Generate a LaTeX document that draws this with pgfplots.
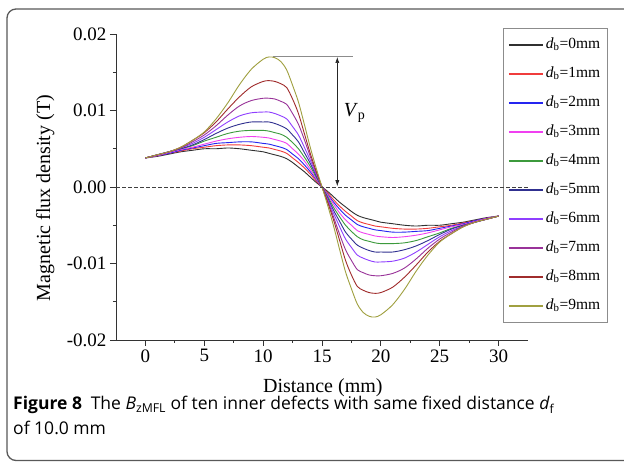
\documentclass[border=0pt]{standalone}
\usepackage{fontspec}
\setmainfont{Liberation Serif}
\newfontfamily\capfont{Open Sans}
\usepackage{pgfplots}
\pgfplotsset{compat=1.18}
\usepackage{pgfplotstable}
\usetikzlibrary{arrows.meta}

\definecolor{colA}{HTML}{303030}
\definecolor{colB}{HTML}{F03C3C}
\definecolor{colC}{HTML}{2525F0}
\definecolor{colD}{HTML}{F040F0}
\definecolor{colE}{HTML}{3C9A3C}
\definecolor{colF}{HTML}{303090}
\definecolor{colG}{HTML}{8F3FFF}
\definecolor{colH}{HTML}{993399}
\definecolor{colI}{HTML}{A02C2C}
\definecolor{colJ}{HTML}{A0A040}

\pgfplotstableread{
x    c0      c1      c2      c3      c4      c5      c6      c7      c8      c9
0    0.0038  0.0038  0.0038  0.0038  0.0038  0.0038  0.0038  0.0038  0.0038  0.0038
1    0.0040  0.0041  0.0041  0.0041  0.0042  0.0042  0.0042  0.0042  0.0042  0.0042
2    0.0043  0.0044  0.0044  0.0045  0.0046  0.0046  0.0046  0.0046  0.0046  0.0046
3    0.0046  0.0047  0.0048  0.0049  0.0050  0.0050  0.0051  0.0051  0.0052  0.0052
4    0.0048  0.0050  0.0051  0.0052  0.0054  0.0055  0.0057  0.0059  0.0061  0.0061
5    0.0050  0.0052  0.0054  0.0056  0.0060  0.0062  0.0065  0.0068  0.0071  0.0072
6    0.0050  0.0054  0.0057  0.0060  0.0065  0.0070  0.0075  0.0080  0.0085  0.0089
7    0.0051  0.0055  0.0058  0.0063  0.0070  0.0077  0.0085  0.0094  0.0102  0.0110
8    0.0050  0.0055  0.0059  0.0065  0.0073  0.0082  0.0093  0.0106  0.0118  0.0134
9    0.0048  0.0054  0.0059  0.0066  0.0074  0.0085  0.0097  0.0113  0.0131  0.0154
10   0.0046  0.0052  0.0057  0.0065  0.0074  0.0085  0.0098  0.0116  0.0138  0.0167
10.5 0.0044  0.0051  0.0056  0.0064  0.0073  0.0085  0.0098  0.0116  0.0139  0.0170
11   0.0042  0.0049  0.0054  0.0062  0.0071  0.0083  0.0096  0.0115  0.0138  0.0169
11.5 0.0040  0.0047  0.0052  0.0060  0.0069  0.0080  0.0093  0.0112  0.0135  0.0164
12   0.0037  0.0044  0.0049  0.0057  0.0065  0.0076  0.0089  0.0108  0.0130  0.0153
12.5 0.0032  0.0038  0.0043  0.0050  0.0058  0.0068  0.0079  0.0096  0.0115  0.0133
13   0.0026  0.0032  0.0037  0.0043  0.0050  0.0059  0.0068  0.0082  0.0096  0.0111
13.5 0.0020  0.0025  0.0029  0.0034  0.0039  0.0045  0.0052  0.0062  0.0070  0.0082
14   0.0013  0.0017  0.0020  0.0023  0.0027  0.0031  0.0035  0.0040  0.0044  0.0052
14.5 0.0006  0.0008  0.0010  0.0011  0.0013  0.0015  0.0017  0.0019  0.0021  0.0025
15   0.0000  0.0000  0.0000  0.0000  0.0000  0.0000  0.0000  0.0000  0.0000  0.0000
15.5 -0.0006 -0.0008 -0.0010 -0.0011 -0.0013 -0.0015 -0.0017 -0.0019 -0.0021 -0.0025
16   -0.0013 -0.0017 -0.0020 -0.0023 -0.0027 -0.0031 -0.0035 -0.0040 -0.0044 -0.0052
16.5 -0.0020 -0.0025 -0.0029 -0.0034 -0.0039 -0.0045 -0.0052 -0.0062 -0.0070 -0.0082
17   -0.0026 -0.0032 -0.0037 -0.0043 -0.0050 -0.0059 -0.0068 -0.0082 -0.0096 -0.0111
17.5 -0.0032 -0.0038 -0.0043 -0.0050 -0.0058 -0.0068 -0.0079 -0.0096 -0.0115 -0.0133
18   -0.0037 -0.0044 -0.0049 -0.0057 -0.0065 -0.0076 -0.0089 -0.0108 -0.0130 -0.0153
18.5 -0.0040 -0.0047 -0.0052 -0.0060 -0.0069 -0.0080 -0.0093 -0.0112 -0.0135 -0.0164
19   -0.0042 -0.0049 -0.0054 -0.0062 -0.0071 -0.0083 -0.0096 -0.0115 -0.0138 -0.0169
19.5 -0.0044 -0.0051 -0.0056 -0.0064 -0.0073 -0.0085 -0.0098 -0.0116 -0.0139 -0.0170
20   -0.0046 -0.0052 -0.0057 -0.0065 -0.0074 -0.0085 -0.0098 -0.0116 -0.0138 -0.0167
21   -0.0048 -0.0054 -0.0059 -0.0066 -0.0074 -0.0085 -0.0097 -0.0113 -0.0131 -0.0154
22   -0.0050 -0.0055 -0.0059 -0.0065 -0.0073 -0.0082 -0.0093 -0.0106 -0.0118 -0.0134
23   -0.0051 -0.0055 -0.0058 -0.0063 -0.0070 -0.0077 -0.0085 -0.0094 -0.0102 -0.0110
24   -0.0050 -0.0054 -0.0057 -0.0060 -0.0065 -0.0070 -0.0075 -0.0080 -0.0085 -0.0089
25   -0.0050 -0.0052 -0.0054 -0.0056 -0.0060 -0.0062 -0.0065 -0.0068 -0.0071 -0.0072
26   -0.0048 -0.0050 -0.0051 -0.0052 -0.0054 -0.0055 -0.0057 -0.0059 -0.0061 -0.0061
27   -0.0046 -0.0047 -0.0048 -0.0049 -0.0050 -0.0050 -0.0051 -0.0051 -0.0052 -0.0052
28   -0.0043 -0.0044 -0.0044 -0.0045 -0.0046 -0.0046 -0.0046 -0.0046 -0.0046 -0.0046
29   -0.0040 -0.0041 -0.0041 -0.0041 -0.0042 -0.0042 -0.0042 -0.0042 -0.0042 -0.0042
30   -0.0038 -0.0038 -0.0038 -0.0038 -0.0038 -0.0038 -0.0038 -0.0038 -0.0038 -0.0038
}\datatable

\begin{document}
\begin{tikzpicture}[x=1pt,y=1pt]
\useasboundingbox (0,0) rectangle (624,463);
\fill[white] (0,0) rectangle (624,463);
\draw[black!65, line width=1.3pt, rounded corners=9pt] (7,2.5) rectangle (660,454);
\begin{axis}[
  at={(116pt,123pt)}, anchor=south west,
  scale only axis, width=412pt, height=306pt,
  xmin=-2.5, xmax=32.5, ymin=-0.02, ymax=0.02,
  scaled y ticks=false, scaled x ticks=false,
  axis x line*=bottom, axis y line*=left,
  axis line style={black!80, line width=0.8pt},
  tick style={black!80, line width=0.8pt},
  tick align=outside,
  major tick length=6pt, minor tick length=3pt,
  xtick={0,5,10,15,20,25,30},
  xticklabels={0,5,10,15,20,25,30},
  minor x tick num=1,
  ytick={-0.02,-0.01,0,0.01,0.02},
  yticklabels={-0.02,-0.01,0.00,0.01,0.02},
  minor y tick num=1,
  ticklabel style={font=\fontsize{19}{19}\selectfont},
  xlabel={Distance (mm)},
  ylabel={Magnetic flux density (T)},
  label style={font=\fontsize{20}{20}\selectfont},
  xlabel style={at={(rel axis cs:0.502,-0.155)}, anchor=center},
  ylabel style={at={(rel axis cs:-0.172,0.464)}, anchor=center},
  legend style={at={(rel axis cs:0.939,1.0196)}, anchor=north west,
    draw=black!45, fill=white, font=\fontsize{15.5}{15.5}\selectfont,
    inner xsep=5pt, inner ysep=7pt, row sep=10pt,
    nodes={inner sep=2pt, text height=11pt, text depth=4pt}},
  legend cell align=left,
  legend image code/.code={\draw[#1, line width=1.8pt] (0pt,0pt) -- (34pt,0pt);},
  every axis plot/.append style={line width=0.9pt, smooth},
  clip=false,
]
\addplot[colA] table[x=x,y=c0]{\datatable};
\addlegendentry{\textit{d}\textsubscript{b}=0mm}
\addplot[colB] table[x=x,y=c1]{\datatable};
\addlegendentry{\textit{d}\textsubscript{b}=1mm}
\addplot[colC] table[x=x,y=c2]{\datatable};
\addlegendentry{\textit{d}\textsubscript{b}=2mm}
\addplot[colD] table[x=x,y=c3]{\datatable};
\addlegendentry{\textit{d}\textsubscript{b}=3mm}
\addplot[colE] table[x=x,y=c4]{\datatable};
\addlegendentry{\textit{d}\textsubscript{b}=4mm}
\addplot[colF] table[x=x,y=c5]{\datatable};
\addlegendentry{\textit{d}\textsubscript{b}=5mm}
\addplot[colG] table[x=x,y=c6]{\datatable};
\addlegendentry{\textit{d}\textsubscript{b}=6mm}
\addplot[colH] table[x=x,y=c7]{\datatable};
\addlegendentry{\textit{d}\textsubscript{b}=7mm}
\addplot[colI] table[x=x,y=c8]{\datatable};
\addlegendentry{\textit{d}\textsubscript{b}=8mm}
\addplot[colJ] table[x=x,y=c9]{\datatable};
\addlegendentry{\textit{d}\textsubscript{b}=9mm}
\coordinate (z0) at (axis cs:-2.5,0);
\coordinate (z1) at (axis cs:32.5,0);
\draw[black!45, line width=1pt] (axis cs:10.85,0.0170) -- (axis cs:17.6,0.0170);
\draw[black!85, line width=0.6pt, {Latex[length=6pt,width=4pt]}-{Latex[length=6pt,width=4pt]}] (axis cs:16.3,0.0170) -- (axis cs:16.3,0.0001);
\node[anchor=west, font=\fontsize{20}{20}\selectfont] at (axis cs:16.55,0.0097) {\textit{V}\textsubscript{p}};
\end{axis}
\draw[black!75, line width=0.7pt, dash pattern=on 4pt off 2pt] (z0) -- (z1);
\node[anchor=base west, inner sep=0pt, font=\capfont\fontsize{17.5}{20}\selectfont] at (13,53) {\textbf{Figure 8}\enspace The \textit{B}\textsubscript{zMFL} of ten inner defects with same fixed distance \textit{d}\textsubscript{f}};
\node[anchor=base west, inner sep=0pt, font=\capfont\fontsize{17.5}{20}\selectfont] at (13,28) {of 10.0 mm};
\end{tikzpicture}
\end{document}
